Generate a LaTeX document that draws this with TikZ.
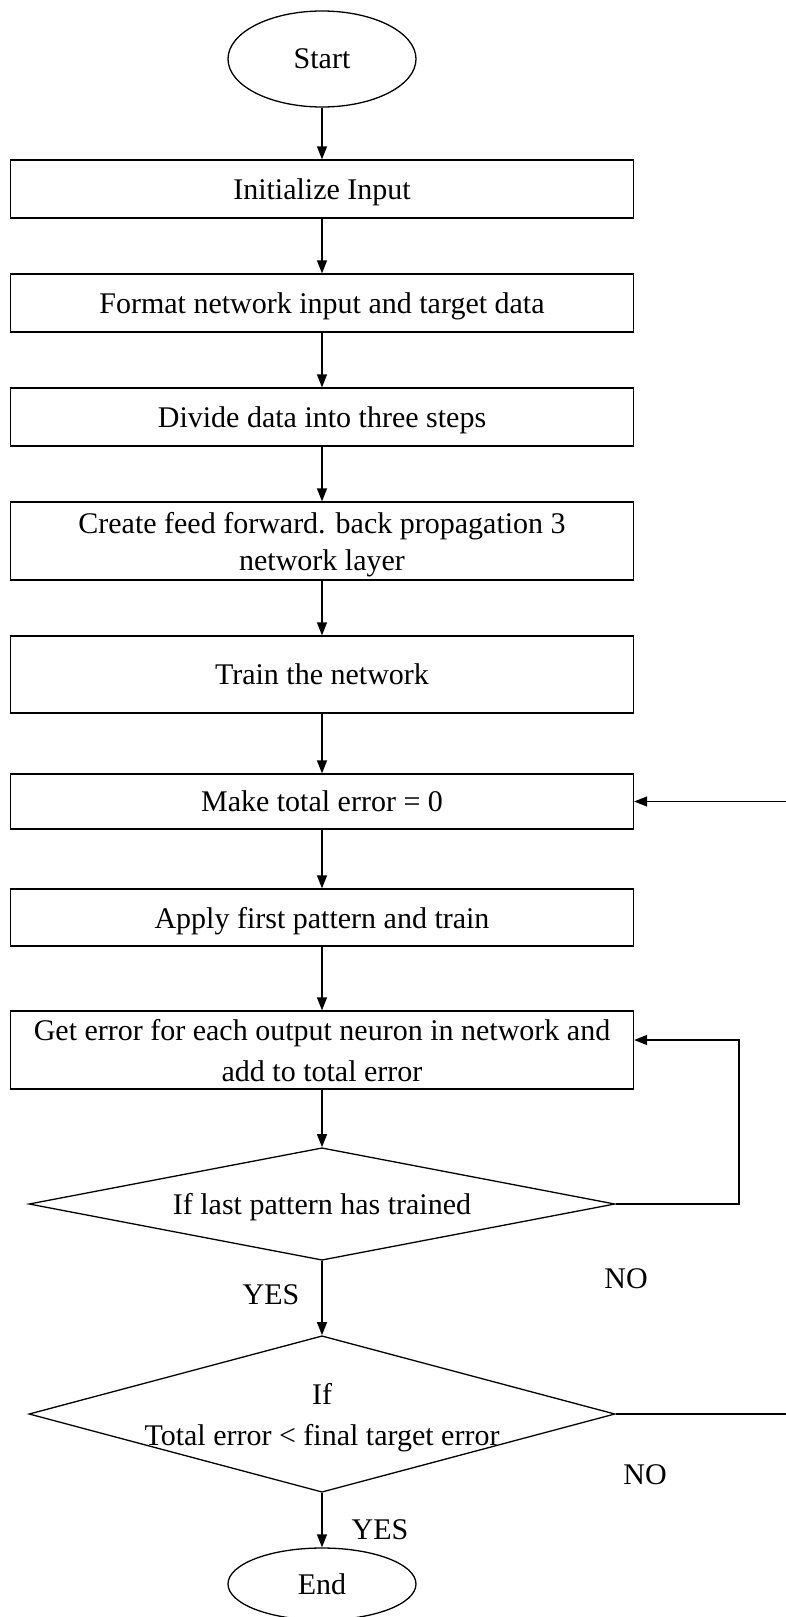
\documentclass[tikz,border=0pt]{standalone}
\usepackage{fontspec}
\setmainfont{Liberation Serif}
\usetikzlibrary{shapes.geometric,arrows.meta}
\tikzset{
  every node/.append style={font=\fontsize{30}{41}\selectfont},
  stepbox/.style={draw, line width=1.3pt, rectangle, minimum width=623pt, inner sep=0pt, align=center, text depth=0pt},
  term/.style={draw, line width=1.3pt, ellipse, minimum width=188pt, inner sep=0pt},
  decide/.style={draw, line width=1.3pt, diamond, minimum width=586pt, inner sep=0pt, align=center, text depth=0pt},
  flow/.style={line width=1.3pt, -{Triangle[length=13pt,width=10pt]}},
  lbl/.style={inner sep=0pt}
}
\begin{document}
\begin{tikzpicture}[x=1pt,y=-1pt]
\useasboundingbox (0,0) rectangle (785,1617);
\node[term, minimum height=96pt] (start) at (322,59) {Start};
\node[stepbox, minimum height=58pt] (b1) at (322,189) {Initialize Input};
\node[stepbox, minimum height=58pt] (b2) at (322,303) {Format network input and target data};
\node[stepbox, minimum height=58pt] (b3) at (322,417) {Divide data into three steps};
\node[stepbox, minimum height=78pt, font=\fontsize{30}{37}\selectfont] (b4) at (322,541) {Create feed forward. back propagation 3\\network layer};
\node[stepbox, minimum height=77pt] (b5) at (322,674.5) {Train the network};
\node[stepbox, minimum height=55pt] (b6) at (322,801.5) {Make total error = 0};
\node[stepbox, minimum height=57pt] (b7) at (322,917.5) {Apply first pattern and train};
\node[stepbox, minimum height=78pt] (b8) at (322,1050) {Get error for each output neuron in network and\\add to total error};
\node[decide, minimum height=112.5pt, aspect=5.2] (d1) at (322,1204) {If last pattern has trained};
\node[decide, minimum height=156.5pt, aspect=3.74,
  label={[name=d2t, align=center, inner sep=0pt, text depth=0pt]center:If\\Total error < final target error}] (d2) at (322,1414) {};
\node[term, minimum height=72pt] (end) at (322,1584) {End};

\node[lbl] (yes1) at (271,1294.5) {YES};
\node[lbl] (no1) at (626,1279) {NO};
\node[lbl] (no2) at (645,1475) {NO};
\node[lbl] (yes2) at (380,1530) {YES};

\coordinate (loopA) at (739,1040);
\coordinate (loopB) at (830,801.5);

\draw[flow] (start) -- (b1);
\draw[flow] (b1) -- (b2);
\draw[flow] (b2) -- (b3);
\draw[flow] (b3) -- (b4);
\draw[flow] (b4) -- (b5);
\draw[flow] (b5) -- (b6);
\draw[flow] (b6) -- (b7);
\draw[flow] (b7) -- (b8);
\draw[flow] (b8) -- (d1);
\draw[flow] (d1) -- (d2);
\draw[flow] (d2) -- (end);
\draw[flow] (d1.east) -| (loopA) -- ([yshift=10pt]b8.east);
\draw[flow] (d2.east) -| (loopB) -- (b6.east);
\end{tikzpicture}
\end{document}
